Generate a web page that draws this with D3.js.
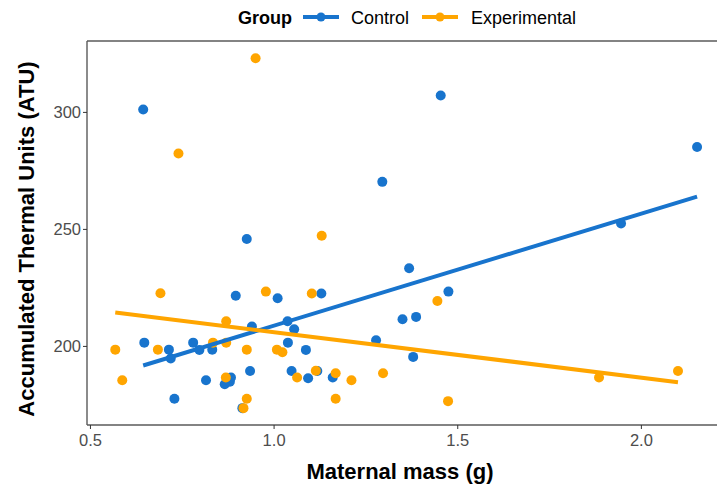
<!DOCTYPE html>
<html>
<head>
<meta charset="utf-8">
<script src="https://cdn.jsdelivr.net/npm/d3@7"></script>
<style>
  html, body { margin: 0; padding: 0; background: #fff; }
  svg { display: block; font-family: "Liberation Sans", Arial, sans-serif; }
</style>
</head>
<body>
<svg id="chart" width="717" height="488"></svg>
<script>
// Maternal mass (g) and accumulated thermal units for each group
const controlMass = [0.645, 0.927, 0.897, 1.011, 0.941, 1.038, 1.056, 0.648, 0.715, 0.720,
  0.781, 0.798, 0.833, 1.039, 0.816, 0.730, 0.936, 0.867, 0.881, 0.884,
  0.915, 1.049, 1.088, 1.094, 1.119, 1.161, 1.130, 1.279, 1.351, 1.388,
  1.380, 1.476, 1.369, 1.455, 1.296, 2.153, 1.946];
const controlATU = [301, 245.7, 221.4, 220.4, 208.3, 210.5, 207.1, 201.4, 198.4, 194.6,
  201.4, 198.3, 198.4, 201.4, 185.3, 177.4, 189.3, 183.6, 184.7, 186.5,
  173.4, 189.3, 198.3, 186.2, 189.3, 186.5, 222.4, 202.4, 211.4, 212.4,
  195.3, 223.2, 233.2, 307, 270.1, 285, 252.3];

const expMass = [0.951, 0.741, 0.692, 0.979, 0.871, 0.569, 0.685, 0.835, 0.871, 0.927,
  1.009, 1.024, 0.588, 0.870, 0.927, 0.918, 1.064, 1.115, 1.169, 1.212,
  1.169, 1.298, 1.446, 1.475, 1.131, 1.104, 1.886, 2.101];
const expATU = [322.9, 282.2, 222.5, 223.2, 210.5, 198.4, 198.4, 201.4, 201.4, 198.4,
  198.4, 197.3, 185.3, 186.5, 177.4, 173.4, 186.5, 189.4, 188.3, 185.3,
  177.4, 188.3, 219.2, 176.4, 247.1, 222.4, 186.5, 189.3];

const groupNames = ["Control", "Experimental"];
const groupColors = ["#1874CD", "#FFA500"];
const xTicks = [0.5, 1.0, 1.5, 2.0];
const yTicks = [200, 250, 300];

const groups = [
  { name: groupNames[0], color: groupColors[0], x: controlMass, y: controlATU },
  { name: groupNames[1], color: groupColors[1], x: expMass, y: expATU }
];

const svg = d3.select("#chart");
const margin = { left: 87, top: 41, bottom: 425 };

const x = d3.scaleLinear().domain([0.492, 2.24]).range([margin.left, margin.left + (2.24 - 0.492) * 367.3]);
const y = d3.scaleLinear().domain([166.2, 330.3]).range([margin.bottom, margin.top]);

// panel frame (top + left + bottom)
const frame = "#5a5a5a";
svg.append("line").attr("x1", margin.left).attr("x2", 717).attr("y1", margin.top).attr("y2", margin.top)
  .attr("stroke", frame).attr("stroke-width", 1.4);

// axes
const xAxis = d3.axisBottom(x).tickValues(xTicks).tickFormat(d3.format(".1f")).tickSize(4).tickSizeOuter(0);
const gx = svg.append("g").attr("transform", `translate(0,${margin.bottom})`).call(xAxis);
gx.select(".domain").attr("d", `M${margin.left},0H717`).attr("stroke", frame).attr("stroke-width", 1.4);
gx.selectAll(".tick line").attr("stroke", "#333").attr("stroke-width", 1);
gx.selectAll(".tick text").attr("fill", "#4D4D4D").attr("font-size", 16.5).attr("dy", "0.85em");

const yAxis = d3.axisLeft(y).tickValues(yTicks).tickSize(4).tickSizeOuter(0);
const gy = svg.append("g").attr("transform", `translate(${margin.left},0)`).call(yAxis);
gy.select(".domain").attr("d", `M0,${margin.top}V${margin.bottom}`).attr("stroke", frame).attr("stroke-width", 1.4);
gy.selectAll(".tick line").attr("stroke", "#333").attr("stroke-width", 1);
gy.selectAll(".tick text").attr("fill", "#4D4D4D").attr("font-size", 16.5).attr("x", -6);

// least-squares fit for each group
function fit(xs, ys) {
  const mx = d3.mean(xs), my = d3.mean(ys);
  let sxy = 0, sxx = 0;
  xs.forEach((v, i) => { sxy += (v - mx) * (ys[i] - my); sxx += (v - mx) * (v - mx); });
  const b = sxy / sxx, a = my - b * mx;
  const [x0, x1] = d3.extent(xs);
  return [[x0, a + b * x0], [x1, a + b * x1]];
}

const plot = svg.append("g");
groups.forEach(g => {
  plot.append("g").selectAll("circle")
    .data(g.x.map((v, i) => [v, g.y[i]]))
    .join("circle")
    .attr("cx", d => x(d[0]))
    .attr("cy", d => y(d[1]))
    .attr("r", 5)
    .attr("fill", g.color);
});
groups.forEach(g => {
  plot.append("path")
    .attr("d", d3.line().x(d => x(d[0])).y(d => y(d[1]))(fit(g.x, g.y)))
    .attr("stroke", g.color).attr("stroke-width", 4).attr("fill", "none");
});

// axis titles
svg.append("text").attr("x", 400).attr("y", 479).attr("text-anchor", "middle")
  .attr("font-size", 22).attr("font-weight", "bold").attr("fill", "#000").text("Maternal mass (g)");
svg.append("text").attr("transform", "translate(34,239) rotate(-90)").attr("text-anchor", "middle")
  .attr("font-size", 22).attr("font-weight", "bold").attr("fill", "#000").text("Accumulated Thermal Units (ATU)");

// legend
const legend = svg.append("g").attr("transform", "translate(0,17)");
legend.append("text").attr("x", 238).attr("y", 6.5).attr("font-size", 18).attr("font-weight", "bold").text("Group");
const keyX = [303, 422];
const labelX = [351, 471];
groups.forEach((g, i) => {
  legend.append("line").attr("x1", keyX[i]).attr("x2", keyX[i] + 36).attr("y1", 0).attr("y2", 0)
    .attr("stroke", g.color).attr("stroke-width", 4);
  legend.append("circle").attr("cx", keyX[i] + 18).attr("cy", 0).attr("r", 4.5).attr("fill", g.color);
  legend.append("text").attr("x", labelX[i]).attr("y", 6.5).attr("font-size", 18).attr("fill", "#000").text(g.name);
});
</script>
</body>
</html>
